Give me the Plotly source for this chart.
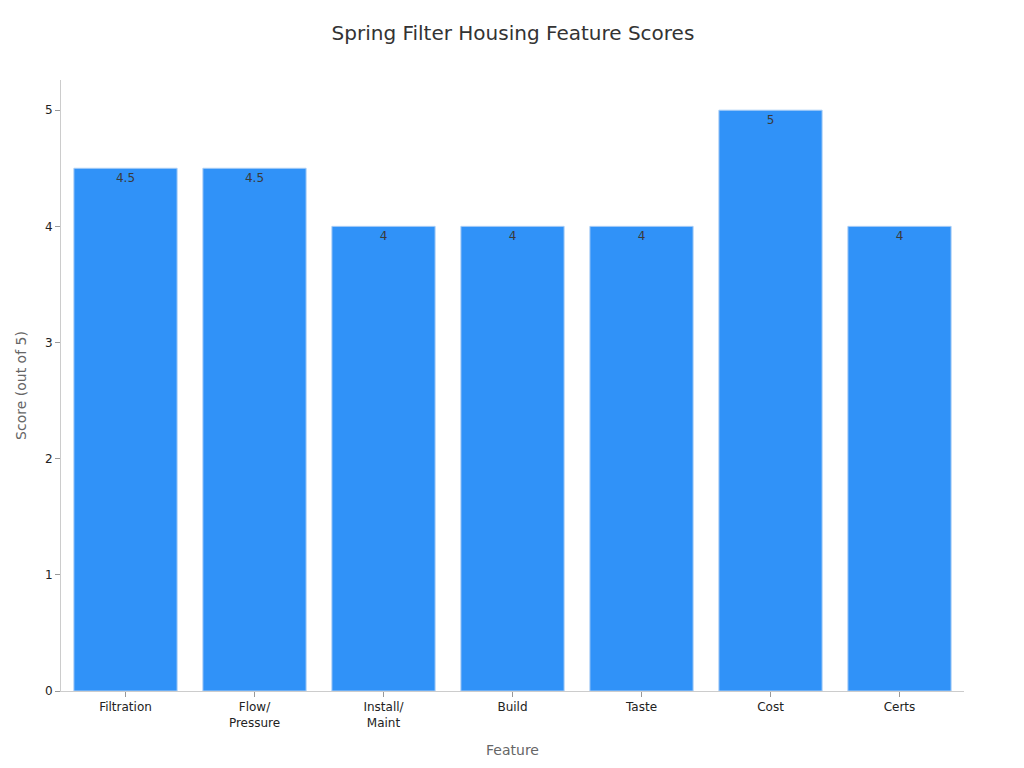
import plotly.graph_objects as go

categories = ["Filtration", "Flow/<br>Pressure", "Install/<br>Maint", "Build", "Taste", "Cost", "Certs"]
scores = [4.5, 4.5, 4, 4, 4, 5, 4]

fig = go.Figure(go.Bar(
    x=categories,
    y=scores,
    text=[str(s) for s in scores],
    textposition="inside",
    insidetextanchor="end",
    textfont=dict(color="#3a3a3a", size=12),
    marker=dict(color="#3092F8", line=dict(color="#a8cdf5", width=1)),
))

fig.update_layout(
    width=1016, height=760,
    font=dict(family="DejaVu Sans", size=12, color="#222222"),
    title=dict(text="Spring Filter Housing Feature Scores", x=0.497, xanchor="center",
               yref="container", y=1 - 25 / 760, yanchor="middle",
               font=dict(size=20, color="#333333")),
    paper_bgcolor="white", plot_bgcolor="white",
    margin=dict(l=51, r=60, t=72, b=75),
    bargap=0.2,
    showlegend=False,
    xaxis=dict(title=dict(text="Feature", font=dict(size=14, color="#666666"), standoff=16),
               showline=True, linecolor="#cccccc", ticks="outside", ticklen=5, tickcolor="#999999",
               showgrid=False),
    yaxis=dict(title=dict(text="Score (out of 5)", font=dict(size=14, color="#666666")),
               range=[0, 5.26], showline=True, linecolor="#cccccc", ticks="outside", ticklen=5,
               tickcolor="#999999", showgrid=False, zeroline=False, dtick=1),
)

fig.write_html("out.html")
